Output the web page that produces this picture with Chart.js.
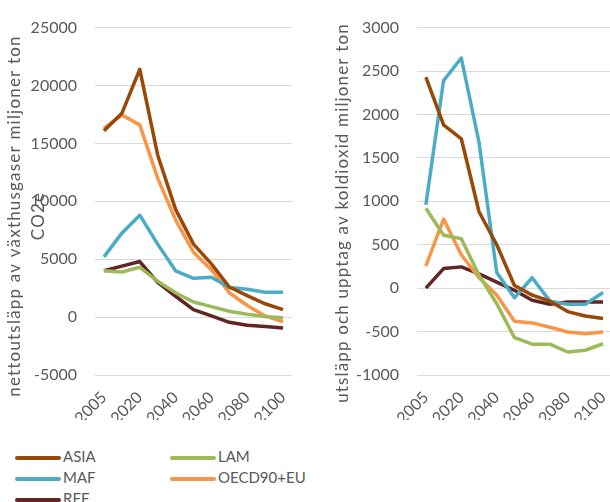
<!DOCTYPE html>
<html>
<head>
<meta charset="utf-8">
<script src="https://cdn.jsdelivr.net/npm/chart.js@4.4.1/dist/chart.umd.min.js"></script>
<style>
  html, body { margin: 0; padding: 0; background: #fff; }
  body { width: 610px; height: 502px; overflow: hidden; position: relative; }
  #leftChart { position: absolute; left: 0; top: 0; }
  #rightChart { position: absolute; left: 320px; top: 0; }
  #legend { position: absolute; left: 15px; top: 446px; font: 15px Lato, sans-serif; color: #595959; }
  .item { position: absolute; white-space: nowrap; height: 21px; line-height: 21px; }
  .item span.mark { display: inline-block; width: 46px; height: 4px; border-radius: 2px; vertical-align: middle; margin-right: 2px; }
</style>
</head>
<body>
<canvas id="leftChart" width="310" height="420"></canvas>
<canvas id="rightChart" width="310" height="420"></canvas>
<div id="legend"></div>
<script>
// categories (x axis)
const years = ['2005', '2010', '2020', '2030', '2040', '2050', '2060', '2070', '2080', '2090', '2100'];
const shownYears = ['2005', '2020', '2040', '2060', '2080', '2100'];
const regions = ['ASIA', 'LAM', 'MAF', 'OECD90+EU', 'REF'];

// left panel: nettoutsläpp av växthusgaser (miljoner ton CO2e)
const asiaNet = [16100, 17600, 21400, 14000, 9300, 6300, 4600, 2600, 1850, 1150, 650];
const lamNet  = [4000, 3900, 4300, 3100, 2100, 1300, 900, 500, 250, 50, -50];
const mafNet  = [5200, 7250, 8800, 6300, 4000, 3350, 3450, 2550, 2400, 2150, 2150];
const oecdNet = [16300, 17450, 16600, 12000, 8400, 5600, 4100, 2100, 1000, 100, -400];
const refNet  = [4000, 4400, 4800, 3000, 1800, 650, 100, -450, -700, -820, -950];

// right panel: utsläpp och upptag av koldioxid (miljoner ton)
const asiaCo2 = [2430, 1880, 1720, 880, 500, 30, -80, -150, -270, -320, -350];
const lamCo2  = [920, 610, 570, 150, -180, -570, -645, -645, -735, -715, -640];
const mafCo2  = [960, 2390, 2650, 1680, 180, -110, 120, -150, -185, -185, -50];
const oecdCo2 = [255, 795, 385, 120, -80, -380, -400, -450, -505, -525, -505];
const refCo2  = [0, 225, 245, 165, 70, -25, -140, -185, -160, -160, -160];

const colors = ['#984807', '#9BBB59', '#4BACC6', '#F79646', '#632523'];
const FONT = 'Lato, sans-serif';
const TXT = '#595959';

function makeSets(series) {
  return series.map(function (s, i) {
    return {
      label: regions[i],
      data: s,
      borderColor: colors[i],
      backgroundColor: colors[i],
      borderWidth: 3.5,
      pointRadius: 0,
      tension: 0,
      fill: false,
      borderJoinStyle: 'round'
    };
  });
}

// rotated axis title, placed like the excel one
function titlePlugin(lines, x, y, lh, spacing) {
  return {
    id: 'axisTitle',
    afterDraw(chart) {
      const ctx = chart.ctx;
      ctx.save();
      ctx.font = '17px ' + FONT;
      ctx.fillStyle = TXT;
      ctx.textAlign = 'center';
      ctx.textBaseline = 'middle';
      ctx.letterSpacing = spacing;
      lines.forEach(function (t, i) {
        ctx.save();
        ctx.translate(x + i * lh, y);
        ctx.rotate(-Math.PI / 2);
        ctx.fillText(t, 0, 0);
        ctx.restore();
      });
      ctx.restore();
    }
  };
}

function makeOptions(min, max, step, yWidth, padRight) {
  return {
    responsive: false,
    animation: false,
    layout: { padding: { top: 17, right: padRight, left: 0, bottom: 0 } },
    plugins: { legend: { display: false }, tooltip: { enabled: false } },
    scales: {
      x: {
        offset: true,
        grid: { display: false, drawTicks: false },
        border: { display: false },
        ticks: {
          autoSkip: false, maxRotation: 45, minRotation: 45, padding: 13,
          color: TXT, font: { family: FONT, size: 16 },
          callback: function (v, i) { return shownYears.indexOf(years[i]) >= 0 ? years[i] : ''; }
        },
        afterFit: function (s) { s.height = 45; }
      },
      y: {
        min: min, max: max,
        grid: { color: '#D9D9D9', lineWidth: 1, drawTicks: false },
        border: { display: false },
        ticks: {
          stepSize: step, padding: 18, color: TXT, font: { family: FONT, size: 16 },
          callback: function (v) { return String(v); }
        },
        afterFit: function (s) { s.width = yWidth; }
      }
    }
  };
}

const left = new Chart(document.getElementById('leftChart'), {
  type: 'line',
  data: { labels: years, datasets: makeSets([asiaNet, lamNet, mafNet, oecdNet, refNet]) },
  options: makeOptions(-5000, 25000, 5000, 95, 9),
  plugins: [titlePlugin(['nettoutsläpp av växthusgaser miljoner ton', 'CO2e'], 15, 216, 24, '1.2px')]
});

const right = new Chart(document.getElementById('rightChart'), {
  type: 'line',
  data: { labels: years, datasets: makeSets([asiaCo2, lamCo2, mafCo2, oecdCo2, refCo2]) },
  options: makeOptions(-1000, 3000, 500, 97, 8),
  plugins: [titlePlugin(['utsläpp och upptag av koldioxid miljoner ton'], 23, 213, 24, '1.15px')]
});

// legend, two columns like the original
const legend = document.getElementById('legend');
left.data.datasets.forEach(function (ds, i) {
  const d = document.createElement('div');
  d.className = 'item';
  d.style.left = (i % 2) * 155 + 'px';
  d.style.top = Math.floor(i / 2) * 21 + 'px';
  d.innerHTML = '<span class="mark" style="background:' + ds.borderColor + '"></span>' + ds.label;
  legend.appendChild(d);
});
</script>
</body>
</html>
